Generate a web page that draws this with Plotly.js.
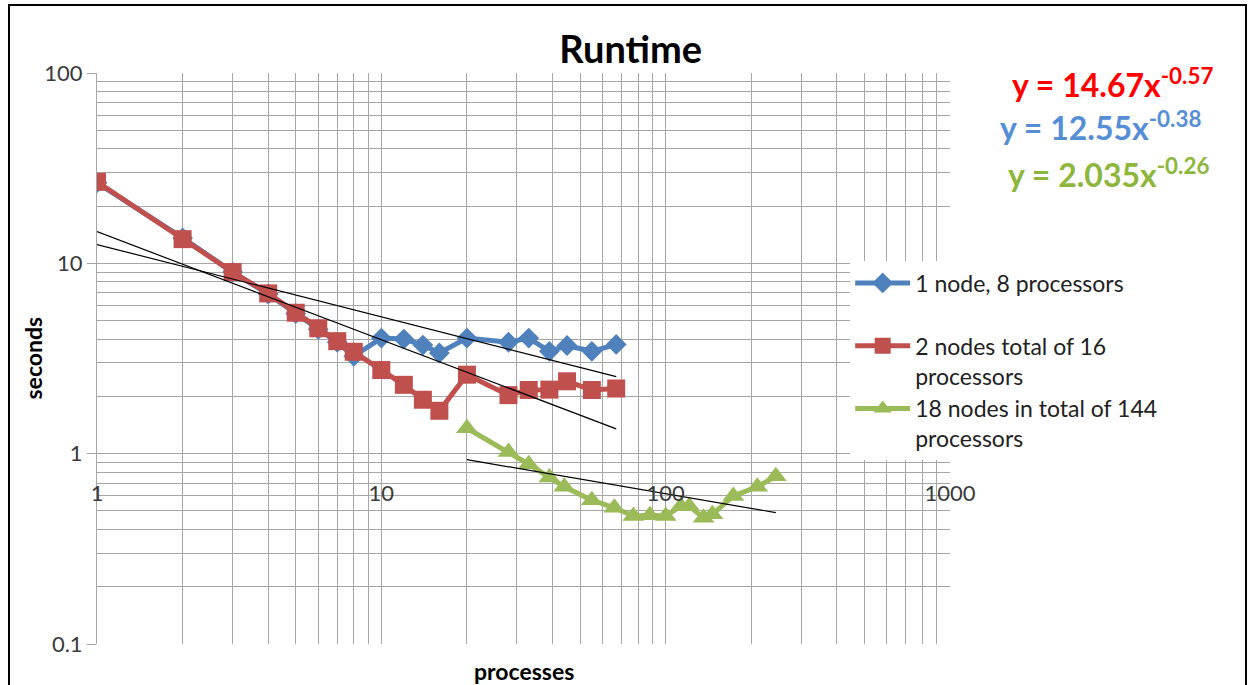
<!DOCTYPE html>
<html><head><meta charset="utf-8">
<script src="https://cdn.plot.ly/plotly-3.0.1.min.js"></script>
<style>
html,body{margin:0;padding:0;background:#fff;overflow:hidden;width:1249px;height:685px;}
#chart{position:absolute;left:0;top:0;width:1249px;height:685px;}
#frame{position:absolute;left:8px;top:4px;width:1235px;height:720px;border:2px solid #000;pointer-events:none;}
</style></head><body>
<div id="chart"></div><div id="frame"></div>
<script>
// ---- data ----
const xOneNode   = [1,2,3,4,5,6,7,8,10,12,14,16,20,28,33,39,45,55,67];
const yOneNode   = [26.5,13.6,9.0,6.9,5.45,4.5,3.85,3.25,4.05,4.0,3.72,3.38,4.05,3.85,4.05,3.45,3.7,3.45,3.75];
const xTwoNodes  = [1,2,3,4,5,6,7,8,10,12,14,16,20,28,33,39,45,55,67];
const yTwoNodes  = [26.8,13.4,9.0,6.95,5.5,4.56,3.9,3.43,2.75,2.3,1.92,1.68,2.6,2.03,2.16,2.17,2.4,2.16,2.2];
const xEighteen  = [20,28,33,39,44,55,66,77,88,100,113,121,136,146,173,210,244];
const yEighteen  = [1.36,1.02,0.88,0.75,0.67,0.57,0.52,0.47,0.475,0.47,0.53,0.53,0.46,0.48,0.6,0.67,0.76];

// power-law trend lines (straight on log-log axes), end points
const trendXTwo = [1,67];   const trendYTwo = [14.67,1.35];
const trendXOne = [1,67];   const trendYOne = [12.55,2.54];
const trendXEighteen = [20,244]; const trendYEighteen = [0.93,0.49];

const seriesNames = ['1 node, 8 processors<br>&nbsp;','2 nodes total of 16<br>processors','18 nodes in total of 144<br>processors'];
const equations = ['y = 14.67x<sup>-0.57</sup>','y = 12.55x<sup>-0.38</sup>','y = 2.035x<sup>-0.26</sup>'];

const xTickVals = [1,10,100,1000];
const xTickText = ['1','10','100','1000'];
const xMinorVals = [2,3,4,5,6,7,8,9,20,30,40,50,60,70,80,90,200,300,400,500,600,700,800,900];
const yTickVals = [0.1,1,10,100];
const yTickText = ['0.1','1','10','100'];
const yMinorVals = [0.2,0.3,0.4,0.5,0.6,0.7,0.8,0.9,2,3,4,5,6,7,8,9,20,30,40,50,60,70,80,90];

// ---- styles ----
const FONT = 'Lato, "Open Sans", sans-serif';
const BLUE = '#4F81BD', RED = '#C0504D', GREEN = '#9BBB59';
const GRID = '#a6a6a6';

const traces = [
  {x:xOneNode, y:yOneNode, name:seriesNames[0], mode:'lines+markers', legendgroup:'a',
   line:{color:BLUE,width:5}, marker:{symbol:'diamond',size:16,color:BLUE}},
  {x:xTwoNodes, y:yTwoNodes, name:seriesNames[1], mode:'lines+markers', legendgroup:'b',
   line:{color:RED,width:5}, marker:{symbol:'square',size:18,color:RED}},
  {x:xEighteen, y:yEighteen, name:seriesNames[2], mode:'lines+markers', legendgroup:'c',
   line:{color:GREEN,width:5}, marker:{symbol:'triangle-up',size:19,color:GREEN}},
  {x:trendXTwo, y:trendYTwo, mode:'lines', showlegend:false, line:{color:'#000',width:1.2}, hoverinfo:'skip'},
  {x:trendXOne, y:trendYOne, mode:'lines', showlegend:false, line:{color:'#000',width:1.2}, hoverinfo:'skip'},
  {x:trendXEighteen, y:trendYEighteen, mode:'lines', showlegend:false, line:{color:'#000',width:1.2}, hoverinfo:'skip'}
];

const eqColors = ['#FF0000','#558ED5','#8DB63C'];
const eqX = [1.19,1.176,1.186];
const eqY = [0.982,0.907,0.825];

const annotations = equations.map((t,i)=>({
  text:'<b>'+t+'</b>', xref:'paper', yref:'paper', x:eqX[i], y:eqY[i],
  xanchor:'center', yanchor:'middle', showarrow:false,
  font:{family:FONT,size:32,color:eqColors[i]}
}));
annotations.push({text:'<b>processes</b>', xref:'paper', yref:'paper', x:0.5, y:-0.047,
  xanchor:'center', yanchor:'middle', showarrow:false, font:{family:FONT,size:23,color:'#000'}});
annotations.push({text:'<b>seconds</b>', xref:'paper', yref:'paper', x:-0.0762, y:0.5, textangle:-90,
  xanchor:'center', yanchor:'middle', showarrow:false, font:{family:FONT,size:23,color:'#000'}});

const layout = {
  width:1249, height:685,
  margin:{l:97, r:299, t:73, b:41},
  paper_bgcolor:'rgba(0,0,0,0)', plot_bgcolor:'#fff',
  font:{family:FONT,color:'#333'},
  title:{text:'Runtime', x:0.505, y:0.927, xanchor:'center', yanchor:'middle',
         font:{family:FONT,size:38,weight:'bold',color:'#000'}},
  xaxis:{type:'log', range:[0,3], tickmode:'array', tickvals:xTickVals, ticktext:xTickText,
         showgrid:true, gridcolor:GRID, gridwidth:1, zeroline:false, showline:false, ticks:'',
         anchor:'free', position:0.29, tickfont:{family:FONT,size:22,color:'#3a3a3a'},
         minor:{tickmode:'array', tickvals:xMinorVals, showgrid:true, gridcolor:GRID, gridwidth:1, ticks:''}},
  yaxis:{type:'log', range:[-1,2], tickmode:'array', tickvals:yTickVals, ticktext:yTickText,
         showgrid:true, gridcolor:GRID, gridwidth:1, zeroline:false, showline:true, linecolor:GRID,
         ticks:'outside', ticklen:9, tickcolor:GRID, tickfont:{family:FONT,size:22,color:'#3a3a3a'},
         minor:{tickmode:'array', tickvals:yMinorVals, showgrid:true, gridcolor:GRID, gridwidth:1, ticks:''}},
  legend:{x:0.883, y:0.670, xanchor:'left', yanchor:'top', bgcolor:'#fff', borderwidth:0,
          font:{family:FONT,size:23,color:'#222'}, valign:'top', itemwidth:55, tracegroupgap:0},
  annotations:annotations,
  showlegend:true
};

Plotly.newPlot('chart', traces, layout, {staticPlot:true, displayModeBar:false});
</script>
</body></html>
